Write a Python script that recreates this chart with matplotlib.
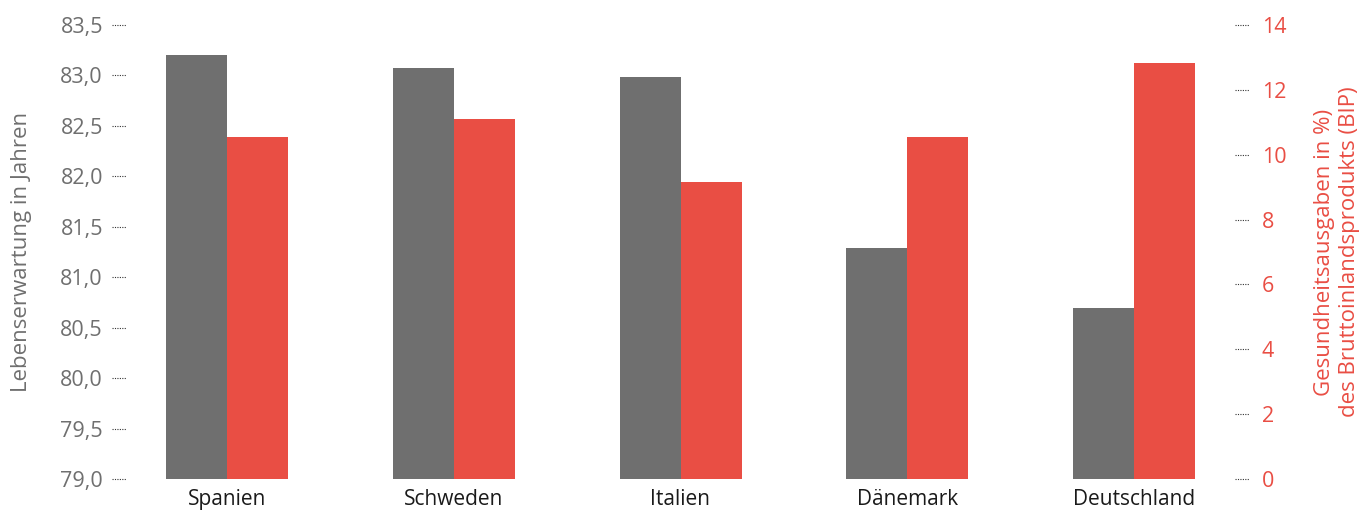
#!/usr/bin/env python3
"""Life expectancy vs. health spending, two y-axes bar chart."""

import matplotlib.pyplot as plt
import numpy as np

plt.rcParams["font.family"] = ["Open Sans", "DejaVu Sans"]

# Data
countries = ["Spanien", "Schweden", "Italien", "Dänemark", "Deutschland"]
life_expectancy = [83.2, 83.07, 82.98, 81.29, 80.69]
health_spending = [10.55, 11.1, 9.16, 10.55, 12.83]
left_ticks = [79.0, 79.5, 80.0, 80.5, 81.0, 81.5, 82.0, 82.5, 83.0, 83.5]
right_ticks = [0, 2, 4, 6, 8, 10, 12, 14]

gray = "#6f6f6f"
red = "#e94e44"

W, H = 1365, 512
fig = plt.figure(figsize=(W / 100, H / 100), dpi=100)
ax_l, ax_r_px, ax_t, ax_b = 130, 1232, 25, 479
ax = fig.add_axes([ax_l / W, 1 - ax_b / H, (ax_r_px - ax_l) / W, (ax_b - ax_t) / H])
ax2 = ax.twinx()

x = np.arange(len(countries))
spacing_px = 226.75
bw = 61 / spacing_px
x0 = -(227 - ax_l) / spacing_px
x1 = x0 + (ax_r_px - ax_l) / spacing_px

ax.bar(x - bw / 2, life_expectancy, width=bw, color=gray)
ax2.bar(x + bw / 2, health_spending, width=bw, color=red)

ax.set_ylim(79.0, 83.5)
ax2.set_ylim(0, 14)
ax.set_xlim(x0, x1)

for a in (ax, ax2):
    for s in a.spines.values():
        s.set_visible(False)

# ticks: labels only, dotted marks drawn by hand
ax.set_yticks(left_ticks)
ax.set_yticklabels([f"{t:.1f}".replace(".", ",") for t in left_ticks])
ax.tick_params(axis="y", length=0, pad=19.5, labelsize=15.5, labelcolor=gray)
ax2.set_yticks(right_ticks)
ax2.tick_params(axis="y", length=0, pad=21.5, labelsize=15.5, labelcolor=red)

ax.set_xticks(x)
ax.set_xticklabels(countries)
ax.tick_params(axis="x", length=0, pad=7, labelsize=15, labelcolor="#1a1a1a")

axw = ax_r_px - ax_l
for t in left_ticks:
    ax.plot([(112 - ax_l) / axw, (126 - ax_l) / axw], [t, t], transform=ax.get_yaxis_transform(),
            ls=(0, (1, 1.2)), lw=0.8, color="#333333", clip_on=False)
for t in right_ticks:
    ax2.plot([(1235 - ax_l) / axw, (1249 - ax_l) / axw], [t, t], transform=ax2.get_yaxis_transform(),
             ls=(0, (1, 1.2)), lw=0.8, color="#333333", clip_on=False)

fig.text(22 / W, 1 - 252 / H, "Lebenserwartung in Jahren", fontsize=16, color=gray,
         rotation=90, ha="center", va="center")
fig.text(1337 / W, 1 - 252 / H, "Gesundheitsausgaben in %)\ndes Bruttoinlandsprodukts (BIP)",
         fontsize=16, color=red, rotation=90, ha="center", va="center",
         multialignment="center", linespacing=1.3)

fig.savefig("out.png", dpi=100)
